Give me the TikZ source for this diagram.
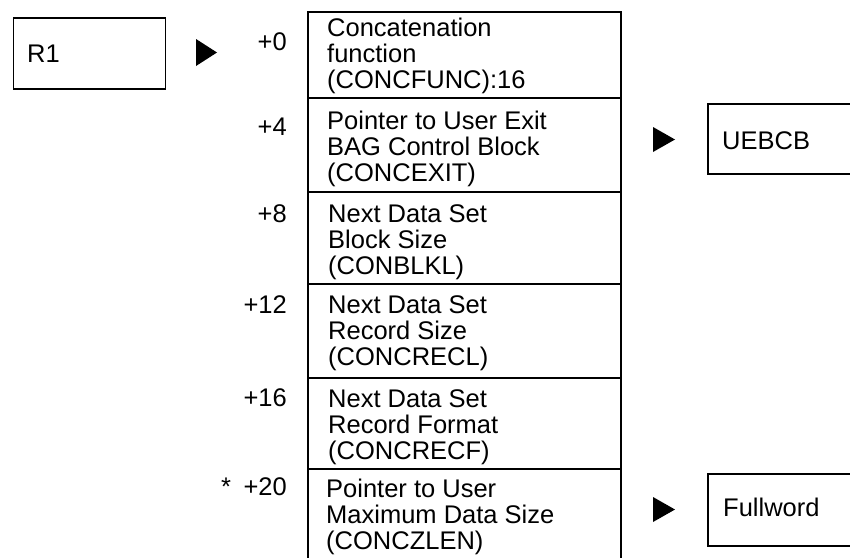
\documentclass[tikz,border=0pt]{standalone}
\usepackage{fontspec}
\setmainfont{Liberation Sans}
\begin{document}
\begin{tikzpicture}[x=1pt,y=-1pt,
  box/.style={draw, line width=1.5pt, inner sep=0pt, anchor=north west},
  txt/.style={anchor=base west, inner sep=0pt, align=left, font=\fontsize{25.5}{26}\selectfont},
  off/.style={anchor=base east, inner sep=0pt, font=\fontsize{25.5}{26}\selectfont},
  tri/.style={fill=black}]
\useasboundingbox (0,0) rectangle (850,557);
\clip (0,0) rectangle (850,557);
% R1
\node[box, minimum width=152pt, minimum height=71pt] (r1) at (12.5,17) {};
\node[txt] (r1t) at (27,62) {R1};
\fill[tri] (196,39) -- (217,52.5) -- (196,66) -- cycle;
% block rows
\node[box, minimum width=313pt, minimum height=86pt] (row1) at (307,11) {};
\node[box, minimum width=313pt, minimum height=94pt] (row2) at (307,97) {};
\node[box, minimum width=313pt, minimum height=92pt] (row3) at (307,191) {};
\node[box, minimum width=313pt, minimum height=94pt] (row4) at (307,283) {};
\node[box, minimum width=313pt, minimum height=91pt] (row5) at (307,377) {};
\node[box, minimum width=313pt, minimum height=110pt] (row6) at (307,468) {};
% multi-line texts: base anchor = baseline of last line
\node[txt] (t1) at (327,88) {Concatenation\\function\\(CONCFUNC):16};
\node[txt] (t2) at (327,181) {Pointer to User Exit\\BAG Control Block\\(CONCEXIT)};
\node[txt] (t3) at (328,274) {Next Data Set\\Block Size\\(CONBLKL)};
\node[txt] (t4) at (328,365) {Next Data Set\\Record Size\\(CONCRECL)};
\node[txt] (t5) at (328,459) {Next Data Set\\Record Format\\(CONCRECF)};
\node[txt] (t6) at (326,549) {Pointer to User\\Maximum Data Size\\(CONCZLEN)};
% offsets
\node[off] (o0) at (287,50) {+0};
\node[off] (o4) at (287,135) {+4};
\node[off] (o8) at (287,222) {+8};
\node[off] (o12) at (287,313) {+12};
\node[off] (o16) at (287,406) {+16};
\node[off] (o20) at (287,495) {+20};
\node[txt] (star) at (221,495) {*};
% UEBCB
\fill[tri] (653,127) -- (675,139.5) -- (653,152) -- cycle;
\node[box, minimum width=170pt, minimum height=70pt] (uebcb) at (707,103) {};
\node[txt] (uebcbt) at (722,149) {UEBCB};
% Fullword
\fill[tri] (653,497) -- (675,509.5) -- (653,522) -- cycle;
\node[box, minimum width=170pt, minimum height=72pt] (full) at (707,473) {};
\node[txt] (fullt) at (723,516) {Fullword};
\end{tikzpicture}
\end{document}
